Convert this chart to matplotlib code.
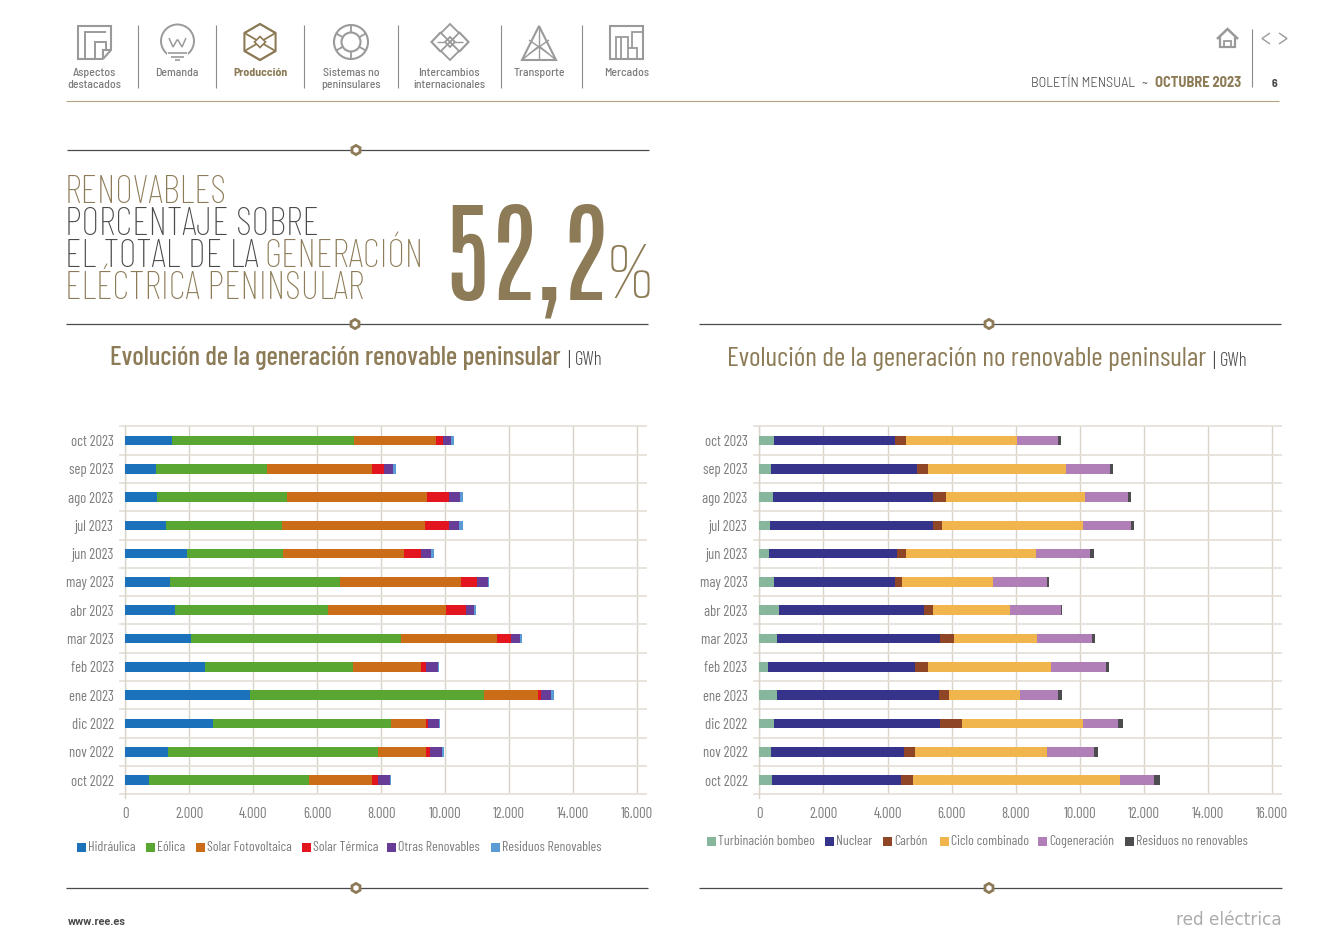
import numpy as np
import matplotlib
matplotlib.use("Agg")
import matplotlib.pyplot as plt
from matplotlib.patches import Circle, Polygon, Rectangle, RegularPolygon

COND = ['Barlow Condensed', 'Roboto Condensed', 'Roboto', 'DejaVu Sans']
SEMI = ['Barlow Semi Condensed', 'Roboto', 'DejaVu Sans']
XCOND = ['Antonio', 'Barlow Condensed', 'Roboto Condensed', 'Roboto', 'DejaVu Sans']
THIN = ['Alumni Sans', 'Barlow Condensed', 'Roboto Condensed', 'Roboto', 'DejaVu Sans']
plt.rcParams['font.family'] = COND

W, H = 1342, 948
GOLD = "#8C7B56"
GREY = "#7C7C7C"
DARK = "#4A4A4A"
ICON = "#9A9A9A"

# data, GWh, from newest month to oldest
months = ["oct 2023", "sep 2023", "ago 2023", "jul 2023", "jun 2023", "may 2023", "abr 2023",
          "mar 2023", "feb 2023", "ene 2023", "dic 2022", "nov 2022", "oct 2022"]

hidraulica = [1460, 950, 980, 1270, 1910, 1400, 1545, 2060, 2495, 3885, 2745, 1320, 745]
eolica = [5685, 3463, 4068, 3640, 3003, 5298, 4787, 6556, 4626, 7323, 5561, 6568, 5010]
fotovoltaica = [2567, 3299, 4372, 4446, 3810, 3798, 3684, 3020, 2109, 1690, 1090, 1510, 1965]
termica = [209, 375, 710, 772, 531, 510, 625, 408, 168, 108, 60, 120, 168]
otras_ren = [269, 281, 343, 312, 313, 345, 271, 311, 372, 311, 336, 372, 372]
residuos_ren = [75, 84, 73, 104, 74, 21, 53, 60, 48, 72, 48, 60, 60]

bombeo = [466, 359, 419, 323, 287, 466, 598, 538, 263, 538, 466, 359, 383]
nuclear = [3756, 4545, 5011, 5107, 3995, 3756, 4545, 5107, 4605, 5083, 5179, 4162, 4030]
carbon = [358, 370, 395, 263, 298, 239, 287, 419, 406, 287, 694, 335, 383]
ciclo = [3457, 4282, 4353, 4401, 4055, 2823, 2404, 2607, 3816, 2225, 3755, 4126, 6446]
cogeneracion = [1268, 1387, 1315, 1495, 1698, 1698, 1567, 1722, 1734, 1172, 1113, 1447, 1089]
residuos_no = [95, 96, 96, 108, 96, 60, 59, 96, 95, 131, 143, 132, 167]

renovables = [("Hidráulica", hidraulica, "#1B72BA"), ("Eólica", eolica, "#5AA632"),
              ("Solar Fotovoltaica", fotovoltaica, "#CB6D18"), ("Solar Térmica", termica, "#E3161F"),
              ("Otras Renovables", otras_ren, "#663C96"), ("Residuos Renovables", residuos_ren, "#5B9BD5")]
no_renovables = [("Turbinación bombeo", bombeo, "#86B79C"), ("Nuclear", nuclear, "#36348A"),
                 ("Carbón", carbon, "#8E4627"), ("Ciclo combinado", ciclo, "#F0B54C"),
                 ("Cogeneración", cogeneracion, "#B07FB7"), ("Residuos no renovables", residuos_no, "#4D4D4F")]

xticks = [0, 2000, 4000, 6000, 8000, 10000, 12000, 14000, 16000]
xlabels = ["0", "2.000", "4.000", "6.000", "8.000", "10.000", "12.000", "14.000", "16.000"]

fig = plt.figure(figsize=(W / 100, H / 100), dpi=100, facecolor="white")

# page layer in pixel coordinates
bg = fig.add_axes([0, 0, 1, 1])
bg.set_xlim(0, W)
bg.set_ylim(H, 0)
bg.axis("off")


def line(xs, ys, color=ICON, lw=1.3):
    bg.plot(xs, ys, color=color, lw=lw, solid_capstyle="butt", solid_joinstyle="miter")


def rule(x0, x1, y, xn):
    line([x0, x1], [y, y], color=DARK, lw=0.9)
    bg.add_patch(RegularPolygon((xn, y), 6, radius=4.6, fc="white", ec=GOLD, lw=2, zorder=3))


rule(67, 649, 150, 356)
rule(66, 648, 324, 355)
rule(699, 1281, 324, 989)
rule(66, 648, 888, 356)
rule(699, 1282, 888, 989)

# nav bar
for x in [138, 216, 304, 398, 501, 582]:
    line([x, x], [25, 88], color="#8A8A8A", lw=0.8)

nav = [(94, ["Aspectos", "destacados"], GREY, 500), (177, ["Demanda"], GREY, 500),
       (261, ["Producción"], GOLD, 700), (351, ["Sistemas no", "peninsulares"], GREY, 500),
       (449, ["Intercambios", "internacionales"], GREY, 500), (539, ["Transporte"], GREY, 500),
       (627, ["Mercados"], GREY, 500)]
for x, rows, col, weight in nav:
    for i, row in enumerate(rows):
        bg.text(x, 76 + i * 11.5, row, ha="center", va="baseline", fontsize=8.5, color=col,
                fontweight=weight, fontfamily=SEMI)

# aspectos
line([103, 78, 78, 111, 111, 103, 103, 111], [59, 59, 26, 26, 50, 59, 50, 50], lw=1.5)
line([85, 85, 106], [59, 32, 32], lw=1.4)
line([94.5, 94.5, 106, 106], [59, 42, 42, 50], lw=1.4)

# demanda
bg.add_patch(Circle((177.5, 41), 16.5, fc="none", ec=ICON, lw=1.4))
bg.add_patch(Rectangle((167, 53), 21, 6, fc="white", ec="none", zorder=2))
line([168, 187], [53, 53], color=ICON, lw=1.2)
line([171, 184], [56.5, 56.5], lw=1.2)
line([175, 180], [60, 60], lw=1.2)
line([169, 173, 177, 178, 182, 186], [38, 47, 40, 40, 47, 38], lw=1.1)

# produccion
hx, hy = 260, 42
bg.add_patch(RegularPolygon((hx, hy), 6, radius=18, fc="none", ec=GOLD, lw=1.5))
line([244.5, 260, 275.5], [33, 42, 33], color=GOLD, lw=1.3)
line([244.5, 260, 275.5], [51, 60, 51], color=GOLD, lw=1.3)
line([244.5, 260, 275.5], [51, 42, 51], color=GOLD, lw=1.3)
line([244.5, 260, 275.5], [33, 24, 33], color=GOLD, lw=1.3)
bg.add_patch(RegularPolygon((hx, hy), 4, radius=5.5, fc="white", ec=GOLD, lw=1.2, zorder=3))

# sistemas no peninsulares
bg.add_patch(Circle((351, 42), 17, fc="none", ec=ICON, lw=1.5))
bg.add_patch(Circle((351, 42), 9.5, fc="none", ec=ICON, lw=1.5))
for a in [30, 90, 150, 210, 270, 330]:
    ca, sa = np.cos(np.radians(a)), np.sin(np.radians(a))
    line([351 + 9.5 * ca, 351 + 17 * ca], [42 + 9.5 * sa, 42 + 17 * sa], lw=1.3)

# intercambios
for cx, cy, r in [(450, 33, 9), (450, 51, 9), (450, 42, 5)]:
    bg.add_patch(RegularPolygon((cx, cy), 4, radius=r, fc="none", ec=ICON, lw=1.3))
line([441, 431.5, 441], [32, 42, 52], lw=1.5)
line([459, 468.5, 459], [32, 42, 52], lw=1.5)
line([437, 445], [42, 42], lw=1)
line([455, 463], [42, 42], lw=1)

# transporte
bg.add_patch(Polygon([(539, 26), (522, 60), (556, 60)], fc="none", ec=ICON, lw=1.5))
line([539, 539], [26, 60], lw=1)
line([529, 549], [40, 54], lw=1)
line([549, 529], [40, 54], lw=1)
line([522, 539, 556], [60, 46, 60], lw=1)

# mercados
bg.add_patch(Rectangle((610, 26), 33, 33, fc="none", ec=ICON, lw=1.5))
line([616, 616, 628, 628], [59, 37, 37, 59], lw=1.3)
line([621, 621], [59, 37], lw=1.3)
line([628, 637, 637], [48, 48, 59], lw=1.3)
line([632, 632, 643], [48, 32, 32], lw=1.3)

# top right
line([1217, 1227.5, 1238], [39, 29, 39], lw=1.8)
line([1220, 1220, 1235, 1235], [37, 47, 47, 37], lw=1.6)
line([1224, 1224, 1231, 1231], [47, 41, 41, 47], lw=1.3)
line([1251.5, 1251.5], [29, 87], color="#8A8A8A", lw=0.8)
line([1270, 1262, 1270], [33, 38.5, 44], lw=1)
line([1279, 1287, 1279], [33, 38.5, 44], lw=1)
bg.text(1241, 87, "OCTUBRE 2023", ha="right", va="baseline", fontsize=10.4, color=GOLD, fontweight=700, fontfamily=SEMI)
bg.text(1144, 87, "~", ha="center", va="baseline", fontsize=9, color=DARK)
bg.text(1135, 87, "BOLETÍN MENSUAL", ha="right", va="baseline", fontsize=10.3, color=DARK, fontweight=300, fontfamily=SEMI)
bg.text(1275, 87, "6", ha="center", va="baseline", fontsize=8.5, color=DARK, fontweight=700, fontfamily=SEMI)
line([66, 1279], [100.5, 100.5], color="#B3A47F", lw=0.8)

# headline
title_kw = dict(ha="left", va="baseline", fontsize=27.8, fontweight=200)
bg.text(65, 203, "RENOVABLES", color=GOLD, **title_kw)
bg.text(65, 235, "PORCENTAJE SOBRE", color=DARK, **title_kw)
bg.text(65, 267, "EL TOTAL DE LA", color=DARK, **title_kw)
bg.text(264, 267, "GENERACIÓN", color=GOLD, **title_kw)
bg.text(65, 299, "ELÉCTRICA PENINSULAR", color=GOLD, **title_kw)
bg.text(443, 299, "52,2", color=GOLD, ha="left", va="baseline", fontsize=80, fontfamily=XCOND)
bg.text(606, 298, "%", color=GOLD, ha="left", va="baseline", fontsize=66, fontfamily=THIN)

# chart titles
bg.text(110, 365, "Evolución de la generación renovable peninsular", color=GOLD, ha="left", va="baseline",
        fontsize=19.3, fontweight=500)
bg.text(567, 366, "|", color=DARK, ha="left", va="baseline", fontsize=15, fontweight=300)
bg.text(575, 365, "GWh", color=DARK, ha="left", va="baseline", fontsize=13.5, fontweight=300)
bg.text(727, 366, "Evolución de la generación no renovable peninsular", color=GOLD, ha="left", va="baseline",
        fontsize=19.8, fontweight=400)
bg.text(1212, 367, "|", color=DARK, ha="left", va="baseline", fontsize=15, fontweight=300)
bg.text(1220, 366, "GWh", color=DARK, ha="left", va="baseline", fontsize=13.5, fontweight=300)

# footer
bg.text(68, 925, "www.ree.es", color=DARK, ha="left", va="baseline", fontsize=7.9, fontweight="bold",
        fontfamily=['Roboto', 'DejaVu Sans'])
bg.text(1282, 925, "red eléctrica", color="#ABABAB", ha="right", va="baseline", fontsize=12.2,
        fontfamily=['DejaVu Sans'])


def bar_chart(x0, x16, xright, top, bottom, series, legend_x, legend_y):
    px = (x16 - x0) / 16000
    ax = fig.add_axes([x0 / W, 1 - bottom / H, (xright - x0) / W, (bottom - top) / H])
    ax.patch.set_alpha(0)
    ax.set_xlim(0, (xright - x0) / px)
    ax.set_ylim(len(months) - 0.5, -0.5)
    y = np.arange(len(months))
    left = np.zeros(len(months))
    for name, values, color in series:
        ax.barh(y, values, left=left, height=0.34, color=color, zorder=3, label=name)
        left += np.array(values)
    for s in ax.spines.values():
        s.set_visible(False)
    ax.set_axisbelow(True)
    ax.set_xticks(xticks, xlabels)
    ax.set_yticks(y, months)
    ax.tick_params(axis="both", length=0, labelcolor=GREY, labelsize=10.5)
    ax.tick_params(axis="x", pad=9)
    ax.tick_params(axis="y", pad=8.5)
    ax.grid(axis="x", color="#D9D3C8", lw=1)
    # category bands: lines run out a little past the left axis
    for b in np.arange(len(months) + 1) - 0.5:
        ax.plot([-5 / px, (xright - x0) / px], [b, b], color="#E6E2DA", lw=1.3, clip_on=False, zorder=1)
    ax.plot([0, 0], [len(months) - 0.5 + 0.14, -0.5], color="#D9D3C8", lw=1, clip_on=False, zorder=1)
    # legend laid out by hand to hit the spacing of the original
    for (name, values, color), lx in zip(series, legend_x):
        bg.add_patch(Rectangle((lx, legend_y - 4), 8.5, 8.5, fc=color, ec="none"))
        bg.text(lx + 11, legend_y + 4, name, color=GREY, ha="left", va="baseline", fontsize=10)


bar_chart(125.5, 637, 646, 426.3, 794.2, renovables, [77, 146, 196, 302, 387, 491], 847)
bar_chart(759.4, 1272, 1281, 426.3, 794.2, no_renovables, [707, 825, 883, 940, 1038, 1125], 841)

fig.savefig("out.png", dpi=100)
